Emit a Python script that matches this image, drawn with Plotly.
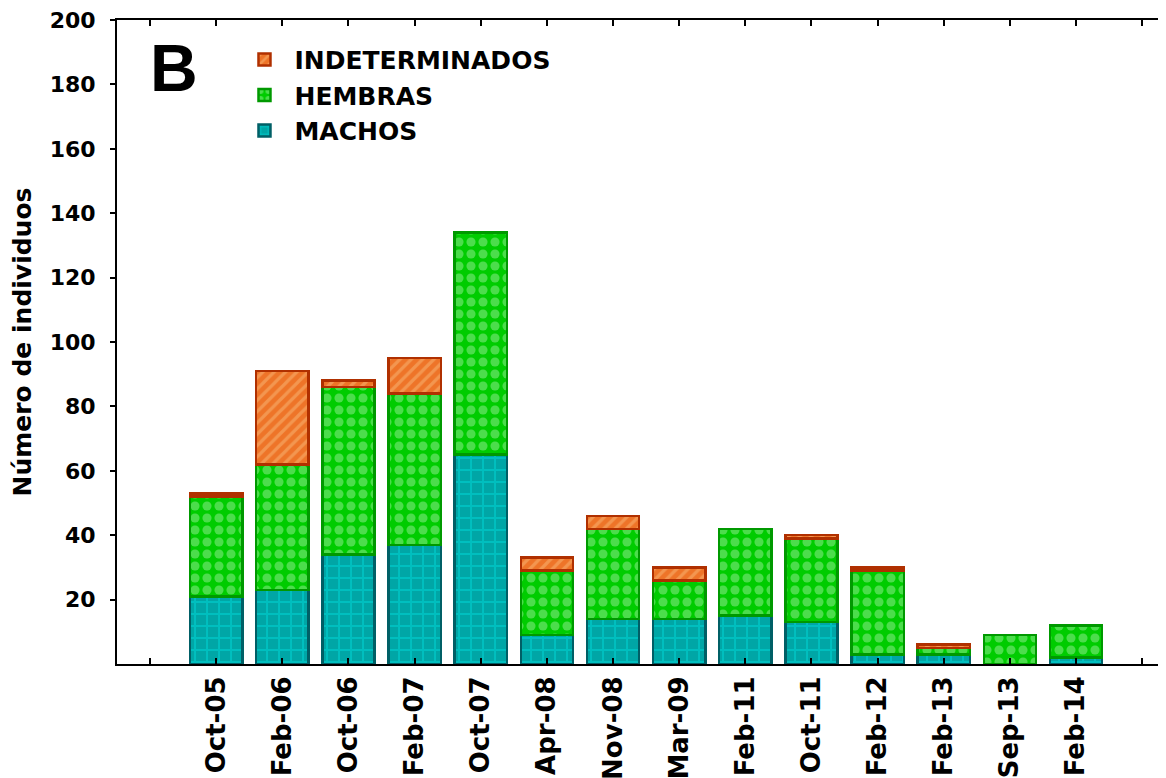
import plotly.graph_objects as go

muestreos = ['Oct-05', 'Feb-06', 'Oct-06', 'Feb-07', 'Oct-07', 'Apr-08', 'Nov-08',
             'Mar-09', 'Feb-11', 'Oct-11', 'Feb-12', 'Feb-13', 'Sep-13', 'Feb-14']
machos = [21, 23, 34, 37, 65, 9, 14, 14, 15, 13, 3, 3, 0, 2]
hembras = [31, 39, 52, 47, 69, 20, 28, 12, 27, 26, 26, 2, 9, 10]
indeterminados = [1, 29, 2, 11, 0, 4, 4, 4, 0, 1, 1, 1, 0, 0]
y_ticks = [20, 40, 60, 80, 100, 120, 140, 160, 180, 200]

# bars sit on positions 1..14, with empty tick slots at 0 and 15
pos = list(range(1, len(muestreos) + 1))

font = 'DejaVu Sans, sans-serif'

def bar(name, vals, bg, fg, shape, edge, size, solid):
    # zero counts -> None so no outline is drawn for empty segments
    vals = [v if v else None for v in vals]
    return go.Bar(x=pos, y=vals, name=name, width=0.79,
                  marker=dict(color=bg, line=dict(color=edge, width=2.5),
                              pattern=dict(shape=shape, bgcolor=bg, fgcolor=fg,
                                           size=size, solidity=solid)))

fig = go.Figure()
fig.add_trace(bar('MACHOS', machos, '#00a6a6', '#00d8d8', '+', '#005f66', 12, 0.3))
fig.add_trace(bar('HEMBRAS', hembras, '#00cc00', '#98ee98', '.', '#009900', 12, 0.45))
fig.add_trace(bar('INDETERMINADOS', indeterminados, '#ee7428', '#f8b878', '/', '#b03000', 8, 0.4))

# page body has an 8px margin, so the plot box is pulled up/left by that much
fig.update_layout(
    barmode='stack',
    width=1166, height=778,
    margin=dict(l=109, r=8, t=12, b=122, autoexpand=False),
    plot_bgcolor='white', paper_bgcolor='white',
    font=dict(family=font, size=22, color='black'),
    legend=dict(x=0.112, y=0.974, xanchor='left', yanchor='top',
                traceorder='reversed', bgcolor='rgba(0,0,0,0)',
                font=dict(family=font, size=25, color='black', weight='bold'),
                itemwidth=50, tracegroupgap=0),
    showlegend=True,
)

fig.update_xaxes(
    range=[-0.5, 15.36], tickmode='array', tickvals=list(range(len(muestreos) + 2)),
    ticktext=[''] + muestreos + [''], tickangle=-90, automargin=False,
    ticks='inside', ticklen=6, tickwidth=2, tickcolor='black',
    ticklabeloverflow='allow',
    showline=True, linecolor='black', linewidth=2, mirror='ticks',
    showgrid=False, zeroline=False,
    tickfont=dict(family=font, size=26, color='black', weight='bold'),
)
fig.update_yaxes(
    range=[0, 200], tickmode='array', tickvals=y_ticks, automargin=False,
    ticks='outside', ticklen=5, tickwidth=2, tickcolor='black',
    ticklabelstandoff=10, ticklabeloverflow='allow',
    showline=True, linecolor='black', linewidth=2,
    showgrid=False, zeroline=False,
    tickfont=dict(family=font, size=22, color='black', weight='bold'),
    title=dict(text='Número de individuos', standoff=12,
               font=dict(family=font, size=25, color='black', weight='bold')),
)

fig.add_annotation(text='<b>B</b>', xref='paper', yref='paper', x=0.03, y=0.986,
                   xanchor='left', yanchor='top', showarrow=False,
                   font=dict(family='Liberation Sans, Arial, sans-serif', size=66, color='black'))

fig.write_html("out.html")
